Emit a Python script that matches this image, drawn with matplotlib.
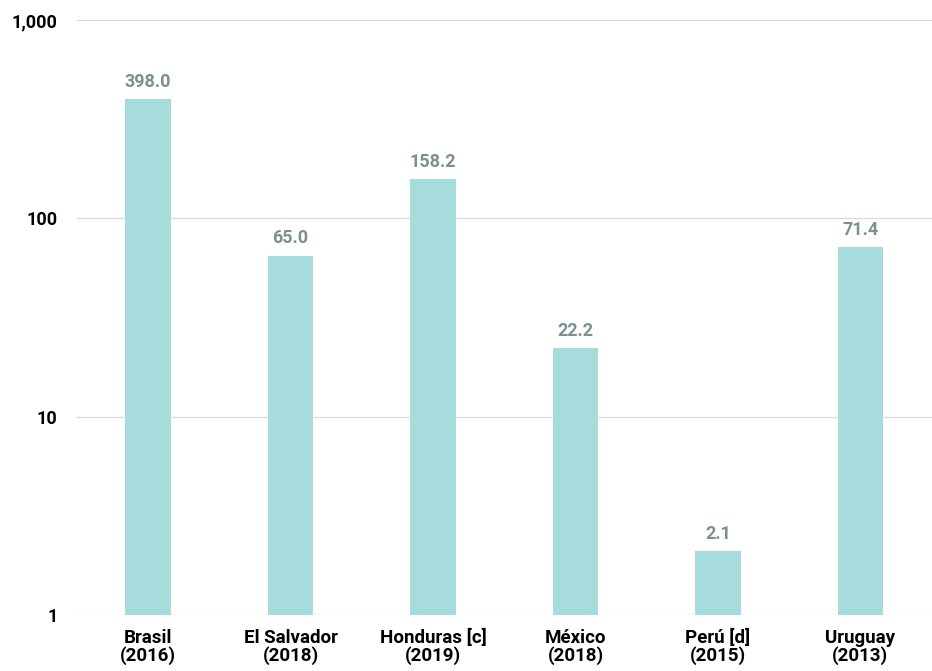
import numpy as np
import matplotlib
matplotlib.use('Agg')
import matplotlib.pyplot as plt
from matplotlib.ticker import FixedLocator, FuncFormatter, NullLocator

countries = ['Brasil\n(2016)', 'El Salvador\n(2018)', 'Honduras [c]\n(2019)',
             'México\n(2018)', 'Perú [d]\n(2015)', 'Uruguay\n(2013)']
values = [398.0, 65.0, 158.2, 22.2, 2.1, 71.4]
yticks = [1, 10, 100, 1000]

bar_color = '#a6dcdc'
label_color = '#7b9090'
plt.rcParams['font.family'] = ['Roboto', 'DejaVu Sans']

fig = plt.figure(figsize=(9.32, 6.71), dpi=100)
ax = fig.add_axes([0.0826, 0.0835, 0.917, 0.8865])

x = np.arange(len(countries))
ax.bar(x, values, width=0.32, color=bar_color, zorder=2)
ax.set_yscale('log')
ax.set_ylim(1, 1000)
ax.set_xlim(-0.5, len(countries) - 0.5)

for xi, v in zip(x, values):
    ax.annotate(f'{v:.1f}', (xi, v), xytext=(0, 6), textcoords='offset points',
                ha='center', va='bottom', fontsize=13, fontweight='bold',
                color=label_color)

ax.yaxis.set_major_locator(FixedLocator(yticks))
ax.yaxis.set_minor_locator(NullLocator())
ax.yaxis.set_major_formatter(FuncFormatter(lambda v, p: f'{int(v):,}'))
ax.grid(axis='y', color='#dddddd', linewidth=1, zorder=0)
ax.set_axisbelow(True)
ax.set_xticks(x)
ax.set_xticklabels(countries, fontsize=13.5, fontweight='bold', linespacing=0.95)
for lbl in ax.get_yticklabels():
    lbl.set_fontsize(13)
    lbl.set_fontweight('bold')
ax.tick_params(axis='both', length=0)
ax.tick_params(axis='y', pad=14)
ax.tick_params(axis='x', pad=10)
for s in ax.spines.values():
    s.set_visible(False)

plt.savefig('out.png', dpi=100)
